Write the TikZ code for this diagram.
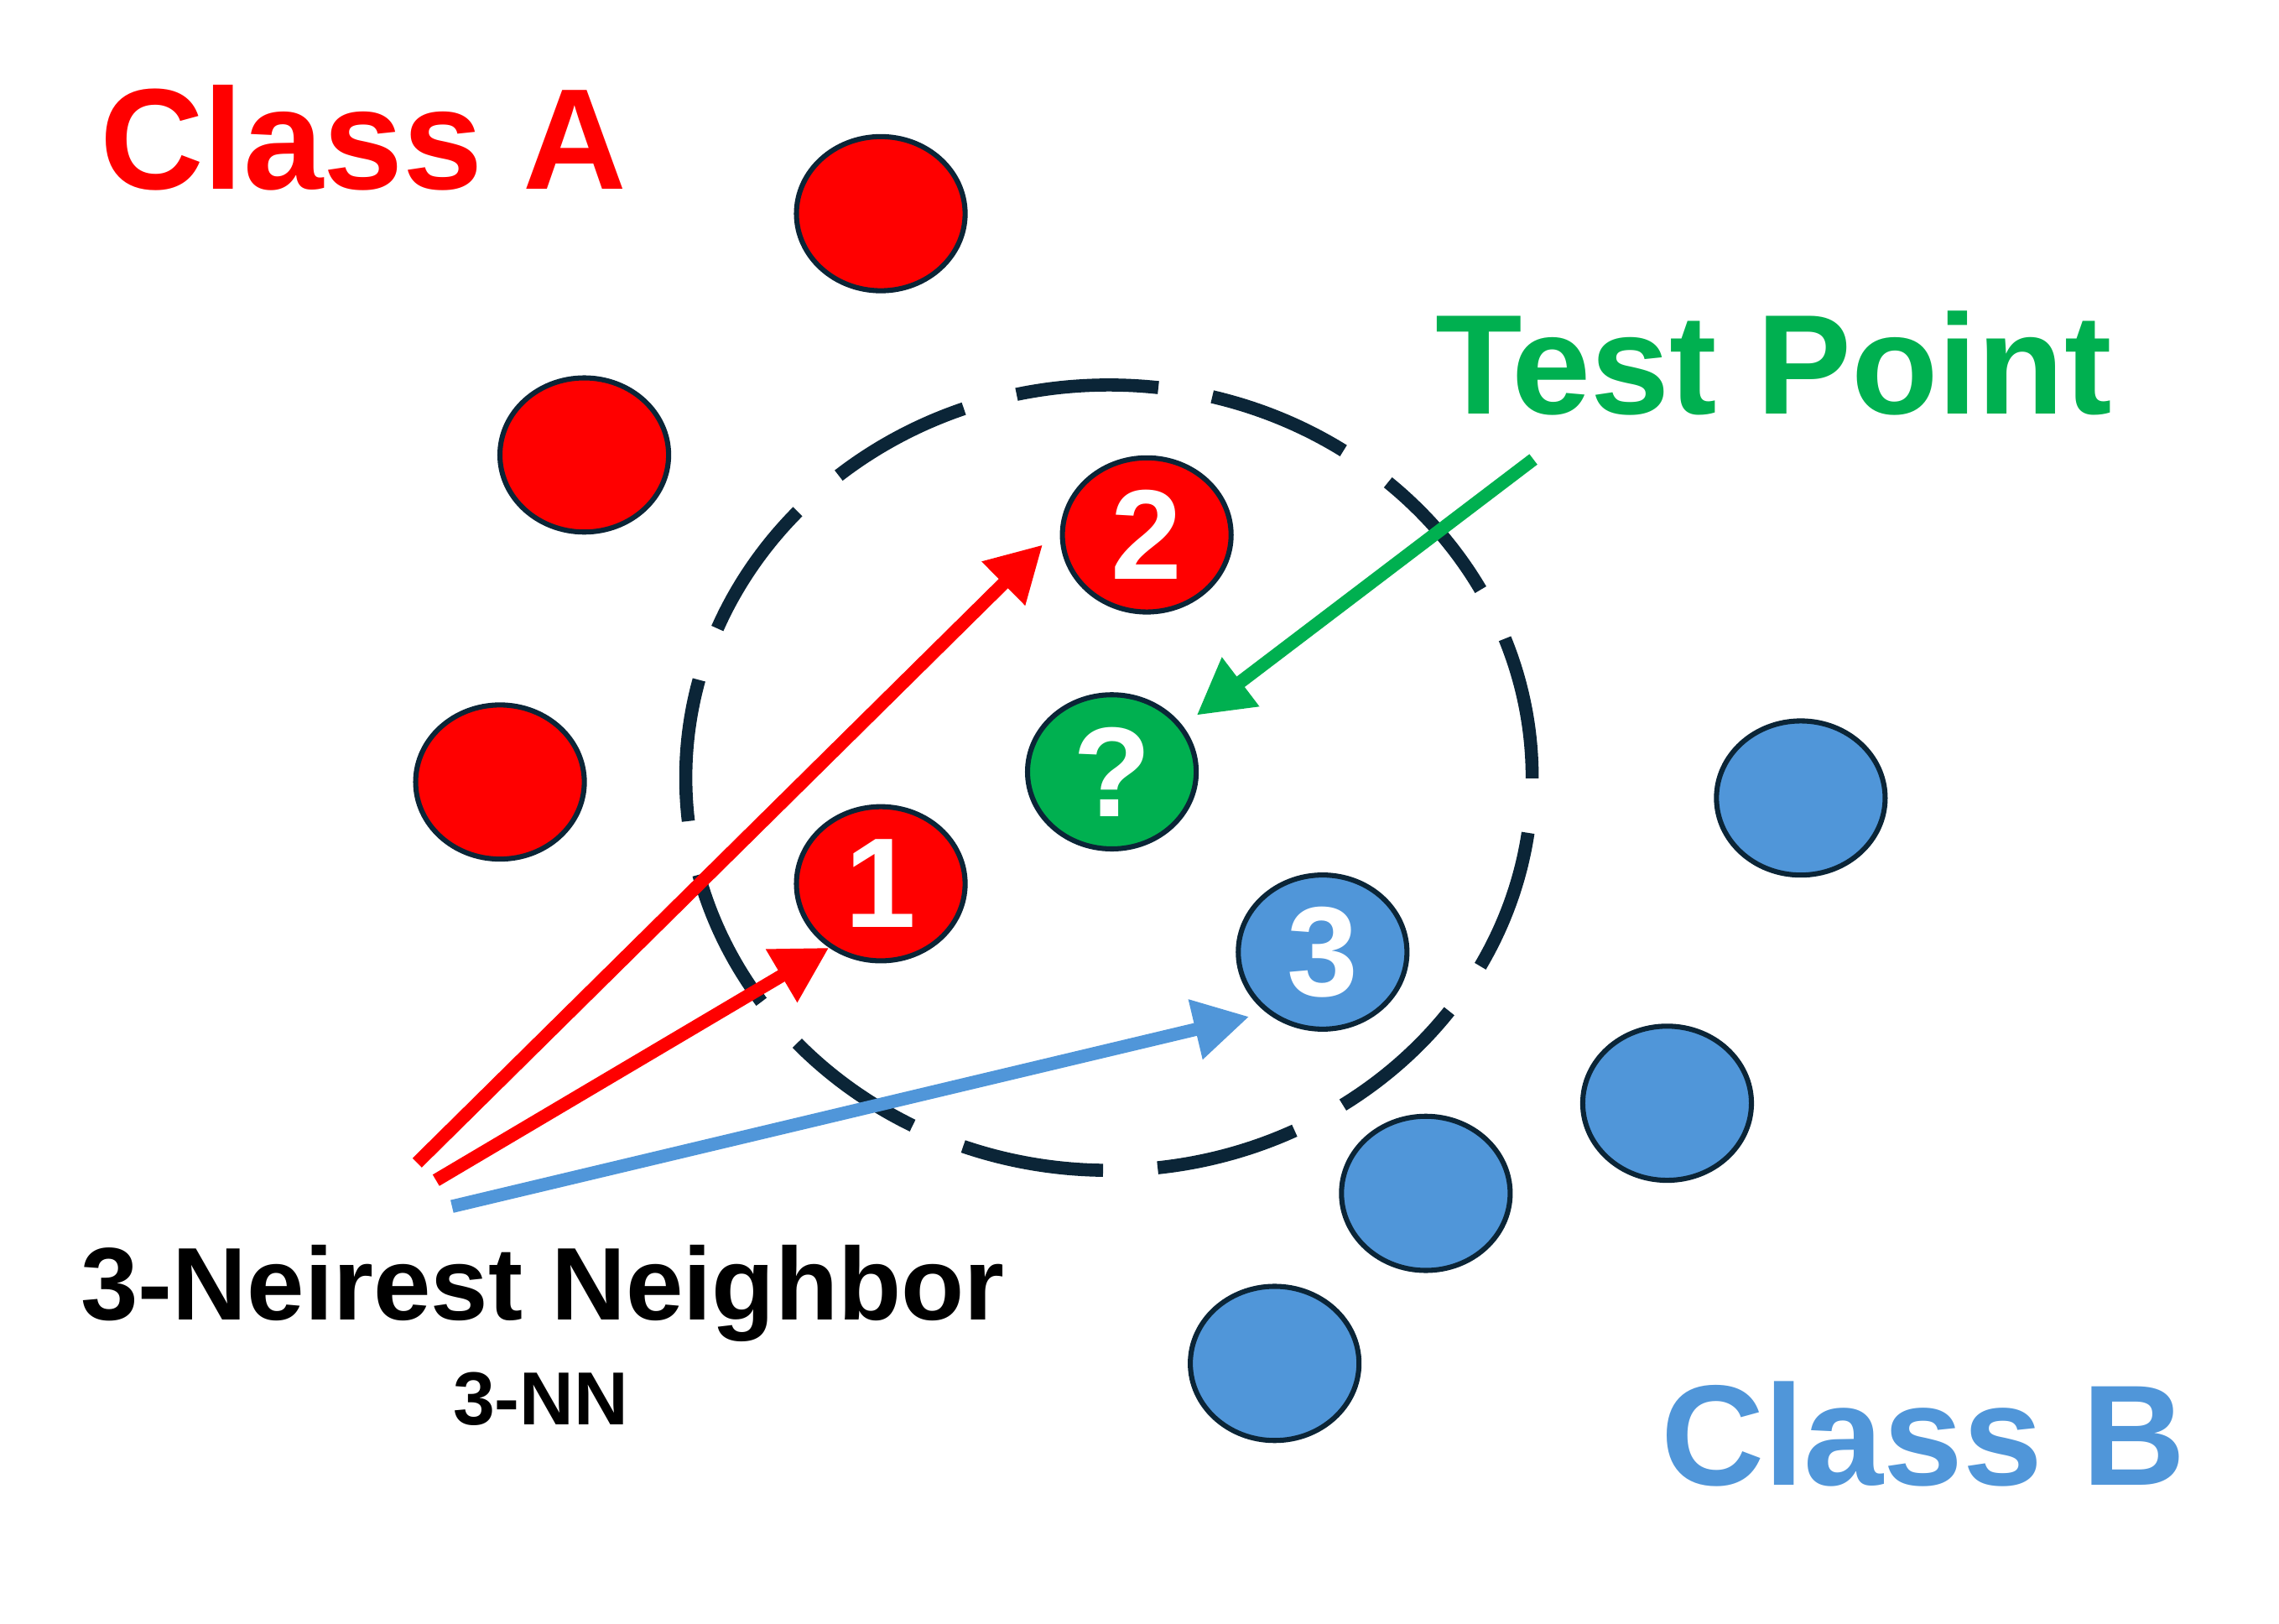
\documentclass[tikz,border=0pt]{standalone}
\usepackage{fontspec}
\setmainfont{Liberation Sans}
\usepackage{tikz}
\usetikzlibrary{arrows.meta,shapes.geometric,positioning}
\definecolor{dotred}{HTML}{FF0000}
\definecolor{dotgreen}{HTML}{00B050}
\definecolor{dotblue}{HTML}{5096D9}
\definecolor{rim}{HTML}{0B2537}
\begin{document}
\begin{tikzpicture}[x=0.01cm,y=-0.01cm,inner sep=0pt,
  dot/.style={ellipse,draw=rim,line width=0.035cm,minimum width=1.16cm,minimum height=1.06cm,text=white,font=\fontsize{25}{25}\selectfont\bfseries},
  reddot/.style={dot,fill=dotred},
  bluedot/.style={dot,fill=dotblue},
  greendot/.style={dot,fill=dotgreen},
  label/.style={anchor=base west,font=\fontsize{28}{28}\selectfont\bfseries},
  pointer/.style={line width=0.09cm,-{Triangle[length=0.38cm,width=0.40cm]}}]
\useasboundingbox (0,0) rectangle (1568,1117);
% class A
\node[reddot] (A1) at (606,147) {};
\node[reddot] (A2) at (402,313) {};
\node[reddot] (A3) at (344,538) {};
\node[reddot] (n2) at (789,368) {2};
\node[reddot] (n1) at (606,608) {1};
% test point
\node[greendot] (Q) at (765,531) {?};
% class B
\node[bluedot] (n3) at (910,655) {3};
\node[bluedot] (B1) at (1239,549) {};
\node[bluedot] (B2) at (1147,759) {};
\node[bluedot] (B3) at (981,821) {};
\node[bluedot] (B4) at (877,938) {};
% neighbourhood
\draw[rim,line width=0.09cm,dash pattern=on 0.98cm off 0.376cm] (763,535) ellipse [x radius=2.91cm,y radius=2.70cm];
% labels
\node[label,text=dotred,font=\fontsize{28.1}{28}\selectfont\bfseries] (classA) at (68,130) {Class A};
\node[label,text=dotgreen,font=\fontsize{27.8}{28}\selectfont\bfseries] (test) at (987,285) {Test Point};
\node[label,text=dotblue] (classB) at (1142,1022) {Class B};
\node[label,font=\fontsize{20.2}{20}\selectfont\bfseries] (knn) at (55,908) {3-Neirest Neighbor};
\node[anchor=base,font=\fontsize{14.7}{15}\selectfont\bfseries] (short) at (372,980) {3-NN};
% arrows
\coordinate (s2) at (287,800);
\coordinate (s1) at (300,812);
\coordinate (s3) at (311,830);
\coordinate (sq) at (1055,316);
\path (s2) edge [pointer,dotred,shorten >=0.17cm] (n2.175);
\path (s1) edge [pointer,dotred] (n1.231);
\path (s3) edge [pointer,dotblue,shorten >=0.12cm] (n3.227);
\path (sq) edge [pointer,dotgreen,shorten >=0.12cm] (Q.33);
\end{tikzpicture}
\end{document}
